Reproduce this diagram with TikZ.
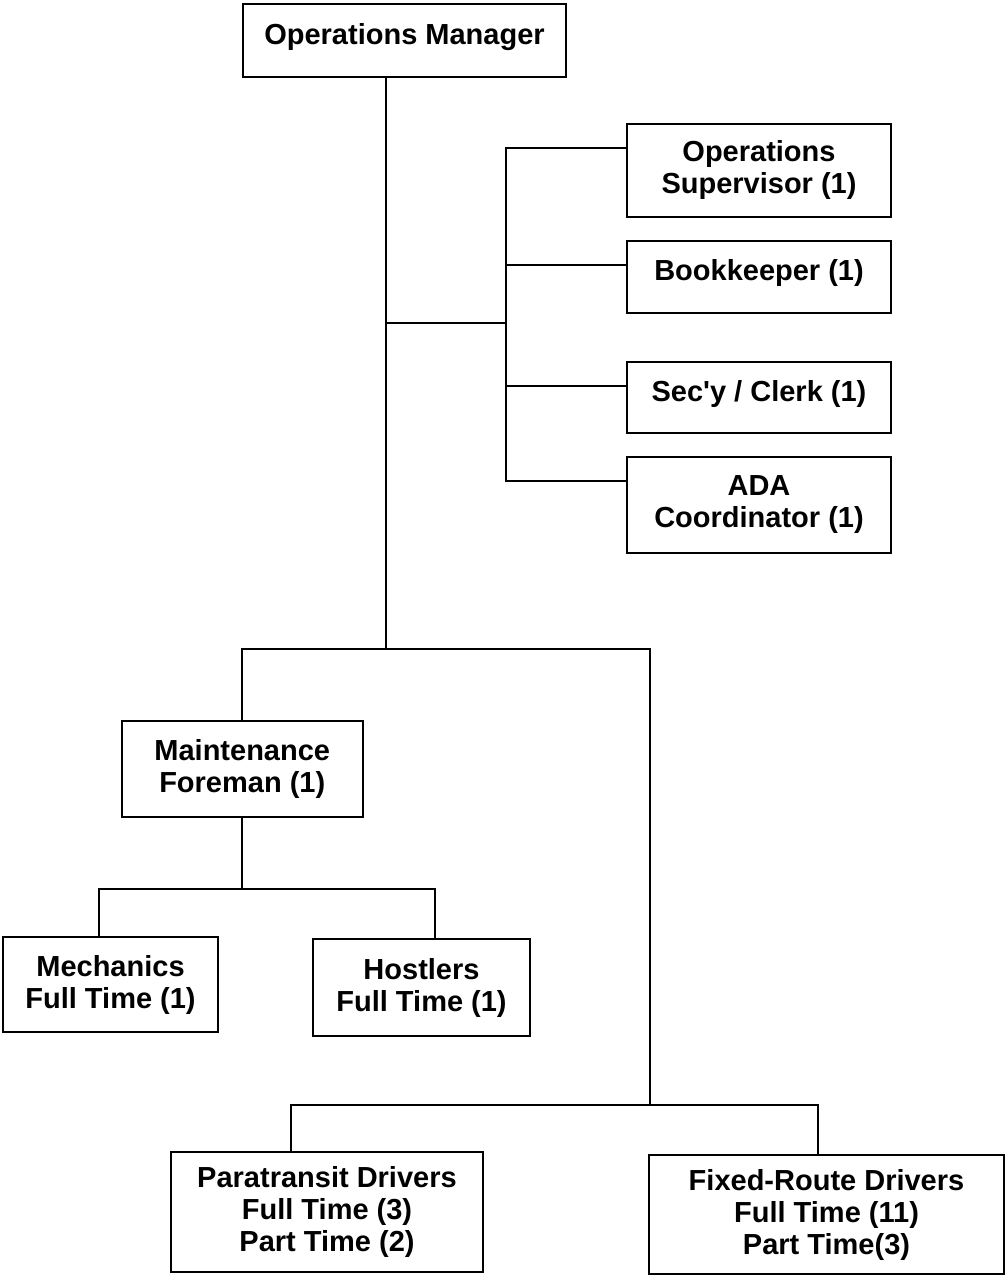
\documentclass[tikz,border=0pt]{standalone}
\usepackage{fontspec}
\setmainfont{Liberation Sans}
\begin{document}
\begin{tikzpicture}[x=1pt,y=-1pt,
  orgbox/.style={draw, line width=2pt, inner sep=0pt, outer sep=0pt, align=center,
    font=\fontsize{29}{32}\selectfont\bfseries},
  link/.style={line width=2pt}]
\fill[white] (0,0) rectangle (1008,1276);
\useasboundingbox (0,0) rectangle (1008,1276);

% boxes
\node[orgbox, minimum width=323pt, minimum height=73pt] (om) at (404.5,40.5) {\raisebox{14pt}{Operations Manager}};
\node[orgbox, minimum width=264pt, minimum height=93pt] (os) at (759,170.5) {Operations\\Supervisor (1)};
\node[orgbox, minimum width=264pt, minimum height=72pt] (bk) at (759,277) {\raisebox{14pt}{Bookkeeper (1)}};
\node[orgbox, minimum width=264pt, minimum height=71pt] (sc) at (759,397.5) {\raisebox{14pt}{Sec\textquotesingle y / Clerk (1)}};
\node[orgbox, minimum width=264pt, minimum height=96pt] (ada) at (759,505) {ADA\\Coordinator (1)};
\node[orgbox, minimum width=240.5pt, minimum height=96pt] (mf) at (242.25,769) {Maintenance\\Foreman (1)};
\node[orgbox, minimum width=215pt, minimum height=95pt] (mech) at (110.5,984.5) {Mechanics\\Full Time (1)};
\node[orgbox, minimum width=217pt, minimum height=97pt] (host) at (421.5,987.5) {Hostlers\\Full Time (1)};
\node[orgbox, minimum width=312pt, minimum height=120pt] (para) at (327,1212) {Paratransit Drivers\\Full Time (3)\\Part Time (2)};
\node[orgbox, minimum width=355pt, minimum height=119pt] (fixed) at (826.5,1214.5) {Fixed-Route Drivers\\Full Time (11)\\Part Time(3)};

% junction points
\coordinate (trunkEnd) at (386,649);
\coordinate (sideJoin) at (506,323);
\coordinate (r1) at (506,148);
\coordinate (r2) at (506,265);
\coordinate (r3) at (506,386);
\coordinate (r4) at (506,481);
\coordinate (lowR) at (650,649);
\coordinate (mL) at (99,889);
\coordinate (mR) at (434.5,889);
\coordinate (dL) at (291,1105);
\coordinate (dR) at (818,1105);

% connectors
\draw[link] (om.south -| trunkEnd) -- (trunkEnd);
\draw[link] (trunkEnd |- sideJoin) -- (sideJoin);
\draw[link] (r1 -| os.west) -- (r1) -- (r4) -- (r4 -| ada.west);
\draw[link] (r2) -- (r2 -| bk.west);
\draw[link] (r3) -- (r3 -| sc.west);
\draw[link] (mf.north) |- (lowR) -- (lowR |- dL);
\draw[link] (mf.south) -- (mf.south |- mL);
\draw[link] (mech.north -| mL) -- (mL) -- (mR) -- (host.north -| mR);
\draw[link] (para.north -| dL) -- (dL) -- (dR) -- (fixed.north -| dR);
\end{tikzpicture}
\end{document}
